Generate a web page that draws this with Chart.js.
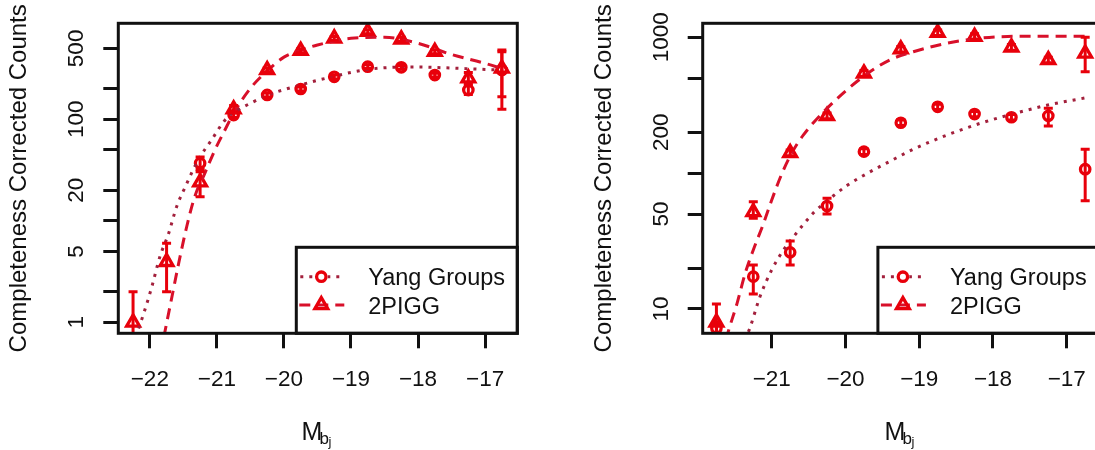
<!DOCTYPE html>
<html><head><meta charset="utf-8">
<script src="https://cdn.jsdelivr.net/npm/chart.js@4.4.1/dist/chart.umd.min.js"></script>
<style>
html,body{margin:0;padding:0;background:#fff;overflow:hidden;width:1095px;height:450px;position:relative;}
canvas{position:absolute;top:0;}
#cL{left:0;width:548px;height:450px;}
#cR{left:548px;width:562px;height:450px;}
</style></head><body>
<canvas id="cL" width="548" height="450"></canvas>
<canvas id="cR" width="562" height="450"></canvas>
<script>
// ---------------- Left panel data ----------------
const xL = [-22.25, -21.75, -21.25, -20.75, -20.25, -19.75, -19.25, -18.75, -18.25, -17.75, -17.25, -16.75];
const yangL   = [null, null, 37,   110, 174, 199, 262, 330, 325, 273, 194, 306];
const yangLlo = [null, null, 32,   104, 166, 190, 250, 316, 311, 261, 176, 126];
const yangLhi = [null, null, 42.5, 118, 182, 208, 274, 344, 339, 285, 214, 482];
const piggL   = [1.0, 3.95, 24,   126, 306, 474, 628, 730, 614, 463, 254, 317];
const piggLlo = [0.3, 2.0,  17.3, 116, 292, 452, 600, 697, 587, 442, 225, 167];
const piggLhi = [2.0, 6.0,  30.5, 137, 320, 496, 656, 763, 642, 484, 290, 462];
const yangCurveLx = [-22.21, -22.09, -21.97, -21.85, -21.72, -21.60, -21.47, -21.28, -21.08, -20.88, -20.68, -20.48, -20.25, -20.0, -19.75, -19.5, -19.25, -19.0, -18.75, -18.5, -18.25, -18.0, -17.5, -17.0, -16.75];
const yangCurveLy = [0.72, 1.23, 2.24, 4.43, 7.5, 13.8, 21.7, 39.7, 62.5, 98, 124, 146, 172, 196, 218, 242, 265, 290, 310, 322, 327, 327, 320, 310, 306];
const piggCurveLx = [-21.79, -21.67, -21.57, -21.45, -21.33, -21.18, -21.03, -20.88, -20.76, -20.5, -20.25, -20.0, -19.75, -19.5, -19.0, -18.5, -18.0, -17.5, -17.0, -16.75];
const piggCurveLy = [0.72, 1.79, 3.81, 8.75, 17.3, 29.4, 49.8, 78.5, 112, 202, 300, 410, 480, 540, 628, 642, 561, 435, 356, 317];
const xTicksL = [-22, -21, -20, -19, -18, -17];
const yTicksL = [1, 2, 5, 10, 20, 50, 100, 200, 500];
const yLabelsL = [1, 5, 20, 100, 500];

// ---------------- Right panel data ----------------
const xR = [-21.75, -21.25, -20.75, -20.25, -19.75, -19.25, -18.75, -18.25, -17.75, -17.25, -16.75];
const yangR   = [7.2, 17.3, 26.1, 57.3, 144, 235, 308, 272, 258, 264, 107];
const yangRlo = [6.5, 12.9, 21.1, 50.0, 137, 224, 294, 260, 246, 222, 62.7];
const yangRhi = [8.0, 21.1, 31.7, 65.3, 151, 246, 322, 284, 270, 300, 150];
const piggR   = [7.98, 51.8, 141, 264, 543, 817, 1081, 1010, 844, 681, 760];
const piggRlo = [5.0,  46.5, 134, 251, 517, 780, 1030, 962,  804, 650, 558];
const piggRhi = [10.9, 61.5, 148, 277, 569, 855, 1130, 1060, 885, 714, 1000];
const yangCurveRx = [-21.36, -21.29, -21.16, -21.0, -20.84, -20.66, -20.44, -20.21, -19.98, -19.67, -19.40, -19.08, -18.63, -18.18, -17.72, -17.27, -16.75];
const yangCurveRy = [5.9, 7.4, 12.3, 19.4, 27.2, 36.5, 50.6, 65, 81, 102, 122, 150, 190, 232, 274, 316, 358];
const piggCurveRx = [-21.62, -21.59, -21.47, -21.36, -21.25, -21.11, -21.0, -20.86, -20.73, -20.57, -20.25, -19.76, -19.40, -19.08, -18.63, -18.18, -17.8, -17.3, -16.75];
const piggCurveRy = [5.9, 6.8, 11, 18.3, 27.2, 42.8, 63.4, 99.8, 140, 191, 300, 513, 681, 783, 903, 984, 1015, 1020, 1020];
const xTicksR = [-21, -20, -19, -18, -17];
const yTicksR = [10, 20, 50, 100, 200, 500, 1000];
const yLabelsR = [10, 50, 200, 1000];

const legendNames = ['Yang Groups', '2PIGG'];
const yTitle = 'Completeness Corrected Counts';

// ---------------- styling / layout ----------------
const RED = '#e8000b';
const DASH_RED = '#d8102a';
const DOT_RED = '#a3203c';
const INK = '#111';
const FONT = "'Liberation Sans', Arial, Helvetica, sans-serif";
const MARK_W = 3.3, LINE_W = 3, CIRC_R = 4.7, TRI_R = 7.4;

const PANELS = {
  cL: { x: xL, yang: yangL, yangLo: yangLlo, yangHi: yangLhi, pigg: piggL, piggLo: piggLlo, piggHi: piggLhi,
        yangCx: yangCurveLx, yangCy: yangCurveLy, piggCx: piggCurveLx, piggCy: piggCurveLy,
        xTicks: xTicksL, yTicks: yTicksL, yLabels: yLabelsL,
        xmin: -22.47, xmax: -16.52, ymin: 0.78, ymax: 883,
        yAxisW: 118.3, padR: 30.7 },
  cR: { x: xR, yang: yangR, yangLo: yangRlo, yangHi: yangRhi, pigg: piggR, piggLo: piggRlo, piggHi: piggRhi,
        yangCx: yangCurveRx, yangCy: yangCurveRy, piggCx: piggCurveRx, piggCy: piggCurveRy,
        xTicks: xTicksR, yTicks: yTicksR, yLabels: yLabelsR,
        xmin: -21.936, xmax: -16.564, ymin: 6.62, ymax: 1268,
        yAxisW: 154.7, padR: 11.1 }
};
const TOP = 23.3, XAXIS_H = 116.7;

function pts(xs, ys) {
  const out = [];
  for (let i = 0; i < xs.length; i++) if (ys[i] != null) out.push({ x: xs[i], y: ys[i] });
  return out;
}
function fmt(v) { return v < 0 ? '\u2212' + Math.abs(v) : String(v); }

function drawCircle(ctx, x, y, r) { ctx.beginPath(); ctx.arc(x, y, r, 0, Math.PI * 2); ctx.stroke(); }
function drawTri(ctx, x, y, r) {
  ctx.beginPath();
  ctx.moveTo(x, y - r);
  ctx.lineTo(x + Math.sin(2 * Math.PI / 3) * r, y + r / 2);
  ctx.lineTo(x - Math.sin(2 * Math.PI / 3) * r, y + r / 2);
  ctx.closePath(); ctx.stroke();
}

const panelPlugin = {
  id: 'panelPlugin',
  afterDatasetsDraw(chart) {
    const ctx = chart.ctx, ca = chart.chartArea;
    const xs = chart.scales.x, ys = chart.scales.y;
    ctx.save();
    ctx.beginPath(); ctx.rect(ca.left, ca.top, ca.right - ca.left, ca.bottom - ca.top); ctx.clip();
    ctx.strokeStyle = RED; ctx.lineWidth = 3; ctx.setLineDash([]); ctx.lineCap = 'butt';
    chart.data.datasets.forEach(ds => {
      if (!ds.errLo) return;
      for (let i = 0; i < ds.errX.length; i++) {
        if (ds.errLo[i] == null) continue;
        const px = xs.getPixelForValue(ds.errX[i]);
        const p1 = ys.getPixelForValue(ds.errLo[i]);
        const p2 = ys.getPixelForValue(ds.errHi[i]);
        ctx.beginPath();
        ctx.moveTo(px, p1); ctx.lineTo(px, p2);
        ctx.moveTo(px - 4.5, p1); ctx.lineTo(px + 4.5, p1);
        ctx.moveTo(px - 4.5, p2); ctx.lineTo(px + 4.5, p2);
        ctx.stroke();
      }
    });
    ctx.restore();
  },
  afterDraw(chart) {
    const P = PANELS[chart.canvas.id];
    const ctx = chart.ctx, ca = chart.chartArea;
    const xs = chart.scales.x, ys = chart.scales.y;
    ctx.save();
    // legend
    const L = ca.right - 221, T = 247.3;
    ctx.fillStyle = '#fff';
    ctx.fillRect(L, T, ca.right - L, ca.bottom - T);
    ctx.strokeStyle = INK; ctx.lineWidth = 3; ctx.setLineDash([]);
    ctx.strokeRect(L, T, ca.right - L, ca.bottom - T);
    const rows = [T + 29.4, T + 57.7];
    ctx.lineWidth = LINE_W;
    ctx.strokeStyle = DOT_RED;
    ctx.setLineDash([3, 6]);
    ctx.beginPath(); ctx.moveTo(L + 4, rows[0]); ctx.lineTo(L + 48, rows[0]); ctx.stroke();
    ctx.strokeStyle = DASH_RED;
    ctx.setLineDash([11, 7]);
    ctx.beginPath(); ctx.moveTo(L + 3, rows[1]); ctx.lineTo(L + 48, rows[1]); ctx.stroke();
    ctx.setLineDash([]);
    ctx.fillStyle = '#fff';
    ctx.beginPath(); ctx.arc(L + 25, rows[0], 6.5, 0, Math.PI * 2); ctx.fill();
    ctx.strokeStyle = RED; ctx.lineWidth = MARK_W;
    drawCircle(ctx, L + 25, rows[0], CIRC_R);
    drawTri(ctx, L + 25, rows[1], TRI_R);
    ctx.fillStyle = INK;
    ctx.font = '23.5px ' + FONT;
    ctx.textAlign = 'left'; ctx.textBaseline = 'alphabetic';
    ctx.fillText(legendNames[0], L + 72, rows[0] + 8.3);
    ctx.fillText(legendNames[1], L + 72, rows[1] + 8.8);
    // box
    ctx.strokeStyle = INK; ctx.lineWidth = 3;
    ctx.strokeRect(ca.left, ca.top, ca.right - ca.left, ca.bottom - ca.top);
    // x tick labels
    ctx.fillStyle = INK;
    ctx.font = '22.5px ' + FONT;
    ctx.textAlign = 'center'; ctx.textBaseline = 'alphabetic';
    P.xTicks.forEach(v => ctx.fillText(fmt(v), xs.getPixelForValue(v), ca.bottom + 52.7));
    // y tick labels (rotated)
    P.yLabels.forEach(v => {
      const py = ys.getPixelForValue(v);
      ctx.save(); ctx.translate(ca.left - 35, py); ctx.rotate(-Math.PI / 2);
      ctx.fillText(String(v), 0, 0); ctx.restore();
    });
    // y title
    ctx.font = '24px ' + FONT;
    ctx.save(); ctx.translate(ca.left - 92, (ca.top + ca.bottom) / 2); ctx.rotate(-Math.PI / 2);
    ctx.fillText(yTitle, 0, 0); ctx.restore();
    // x title M_{b_j}
    const cx = (ca.left + ca.right) / 2;
    ctx.textAlign = 'left';
    ctx.font = '25px ' + FONT; ctx.fillText('M', cx - 16.3, ca.bottom + 106.2);
    ctx.font = '17px ' + FONT; ctx.fillText('b', cx + 1.7, ca.bottom + 110.2);
    ctx.font = '13px ' + FONT; ctx.fillText('j', cx + 10.7, ca.bottom + 113);
    ctx.restore();
  }
};

function makePanel(id) {
  const P = PANELS[id];
  return new Chart(document.getElementById(id), {
    type: 'line',
    data: {
      datasets: [
        { label: 'Yang fit', data: pts(P.yangCx, P.yangCy), borderColor: DOT_RED, borderWidth: LINE_W,
          borderDash: [3, 6], borderCapStyle: 'butt', pointRadius: 0, fill: false,
          cubicInterpolationMode: 'monotone', clip: 0 },
        { label: '2PIGG fit', data: pts(P.piggCx, P.piggCy), borderColor: DASH_RED, borderWidth: LINE_W,
          borderDash: [11, 7], borderCapStyle: 'butt', pointRadius: 0, fill: false,
          cubicInterpolationMode: 'monotone', clip: 0 },
        { label: legendNames[0], data: pts(P.x, P.yang), showLine: false, pointStyle: 'circle',
          pointRadius: CIRC_R, borderWidth: MARK_W, pointBorderWidth: MARK_W, borderColor: RED,
          pointBorderColor: RED, pointBackgroundColor: 'rgba(0,0,0,0)', backgroundColor: 'rgba(0,0,0,0)',
          errX: P.x, errLo: P.yangLo, errHi: P.yangHi, clip: 0 },
        { label: legendNames[1], data: pts(P.x, P.pigg), showLine: false, pointStyle: 'triangle',
          pointRadius: TRI_R, borderWidth: MARK_W, pointBorderWidth: MARK_W, borderColor: RED,
          pointBorderColor: RED, pointBackgroundColor: 'rgba(0,0,0,0)', backgroundColor: 'rgba(0,0,0,0)',
          errX: P.x, errLo: P.piggLo, errHi: P.piggHi, clip: 0 }
      ]
    },
    options: {
      responsive: false, animation: false, devicePixelRatio: 1,
      layout: { padding: { top: TOP, right: P.padR, left: 0, bottom: 0 } },
      plugins: { legend: { display: false }, tooltip: { enabled: false } },
      scales: {
        x: {
          type: 'linear', min: P.xmin, max: P.xmax,
          border: { display: false },
          grid: { display: true, drawOnChartArea: false, drawTicks: true, tickLength: 15, lineWidth: 3, color: INK },
          ticks: { display: false },
          afterBuildTicks: s => { s.ticks = P.xTicks.map(v => ({ value: v })); },
          afterFit: s => { s.height = XAXIS_H; }
        },
        y: {
          type: 'logarithmic', min: P.ymin, max: P.ymax,
          border: { display: false },
          grid: { display: true, drawOnChartArea: false, drawTicks: true, tickLength: 15, lineWidth: 3, color: INK },
          ticks: { display: false },
          afterBuildTicks: s => { s.ticks = P.yTicks.map(v => ({ value: v })); },
          afterFit: s => { s.width = P.yAxisW; }
        }
      }
    },
    plugins: [panelPlugin]
  });
}
Chart.defaults.font.family = FONT;
makePanel('cL');
makePanel('cR');
</script>
</body></html>
